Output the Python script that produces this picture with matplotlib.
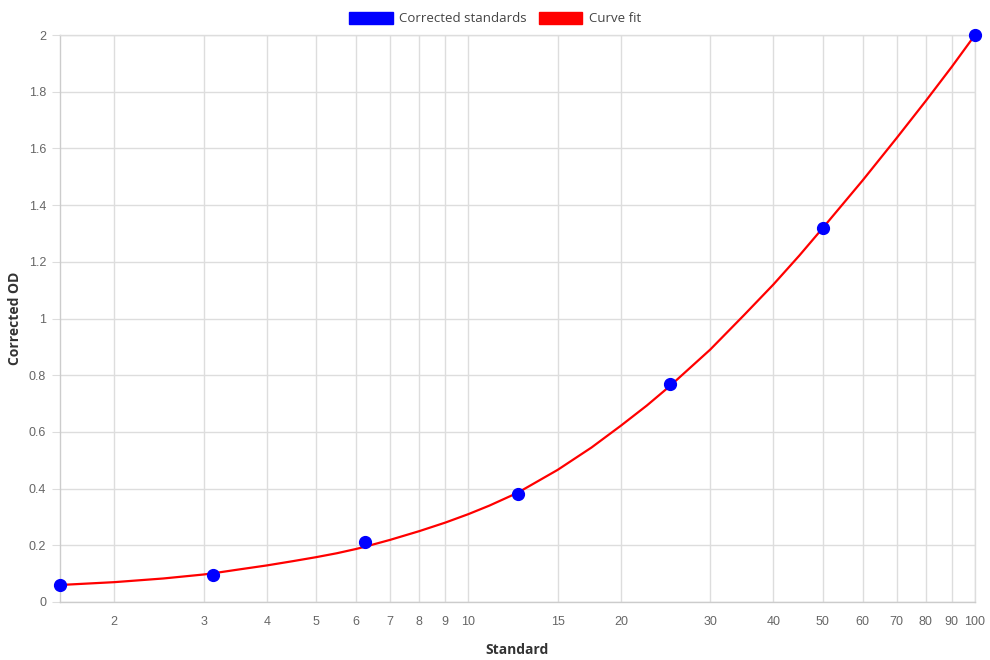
import matplotlib
matplotlib.use("Agg")
import matplotlib.pyplot as plt
from matplotlib.patches import Patch
from matplotlib.ticker import FixedLocator, FuncFormatter, NullLocator

# standards (serial dilution) and their corrected OD
std_x = [1.5625, 3.125, 6.25, 12.5, 25, 50, 100]
std_od = [0.060, 0.097, 0.212, 0.381, 0.768, 1.319, 2.0]

# curve fit
fit_x = [1.5625, 2, 2.5, 3, 3.125, 3.5, 4, 4.5, 5, 5.5, 6, 6.25, 7, 8, 9, 10,
         11, 12.5, 15, 17.5, 20, 22.5, 25, 30, 35, 40, 45, 50, 60, 70, 80, 90, 100]
fit_od = [0.060, 0.070, 0.083, 0.097, 0.101, 0.114, 0.129, 0.144, 0.158, 0.172,
          0.187, 0.195, 0.219, 0.250, 0.280, 0.310, 0.340, 0.385, 0.466, 0.545,
          0.622, 0.693, 0.762, 0.890, 1.012, 1.120, 1.222, 1.318, 1.487, 1.636,
          1.768, 1.888, 2.0]

x_ticks = [2, 3, 4, 5, 6, 7, 8, 9, 10, 15, 20, 30, 40, 50, 60, 70, 80, 90, 100]
y_ticks = [0, 0.2, 0.4, 0.6, 0.8, 1, 1.2, 1.4, 1.6, 1.8, 2]

grid_col = "#dddddd"
tick_col = "#666666"
title_font = "Open Sans"
tick_font = "Liberation Sans"

fig = plt.figure(figsize=(9.9, 6.6), dpi=100)
ax = fig.add_axes([60 / 990, 58 / 660, 915 / 990, 567 / 660])

ax.plot(fit_x, fit_od, color="red", lw=1.6, zorder=3, clip_on=False)
ax.plot(std_x, std_od, "o", color="blue", ms=8.5, zorder=4, clip_on=False)

ax.set_xscale("log")
ax.set_xlim(1.5625, 100)
ax.set_ylim(0, 2)

ax.xaxis.set_major_locator(FixedLocator(x_ticks))
ax.xaxis.set_minor_locator(NullLocator())
ax.xaxis.set_major_formatter(FuncFormatter(lambda v, p: "{:g}".format(v)))
ax.yaxis.set_major_locator(FixedLocator(y_ticks))
ax.yaxis.set_major_formatter(FuncFormatter(lambda v, p: "{:g}".format(v)))

ax.grid(True, color=grid_col, lw=1)
ax.set_axisbelow(True)
for s in ax.spines.values():
    s.set_color(grid_col)
    s.set_linewidth(1)
ax.spines["left"].set_color("#cccccc")
ax.spines["bottom"].set_color("#cccccc")

ax.tick_params(axis="x", length=0, pad=10, labelsize=9, labelcolor=tick_col)
ax.tick_params(axis="y", length=6, color=grid_col, pad=4, labelsize=9,
               labelcolor=tick_col)
for lab in ax.get_xticklabels() + ax.get_yticklabels():
    lab.set_fontfamily(tick_font)

ax.set_xlabel("Standard", fontsize=10, fontweight="bold", color="#333333",
              family=title_font, labelpad=11)
ax.set_ylabel("Corrected OD", fontsize=10, fontweight="bold", color="#333333",
              family=title_font, labelpad=5)

handles = [Patch(facecolor="blue", edgecolor="blue", label="Corrected standards"),
           Patch(facecolor="red", edgecolor="red", label="Curve fit")]
leg = fig.legend(handles=handles, loc="upper center", bbox_to_anchor=(0.5, 1.0),
                 ncol=2, frameon=False, handlelength=3.3, handleheight=1.05,
                 handletextpad=0.5, columnspacing=0.9,
                 prop={"family": title_font, "size": 9.5})
for t in leg.get_texts():
    t.set_color("#444444")

fig.savefig("out.png", dpi=100)
